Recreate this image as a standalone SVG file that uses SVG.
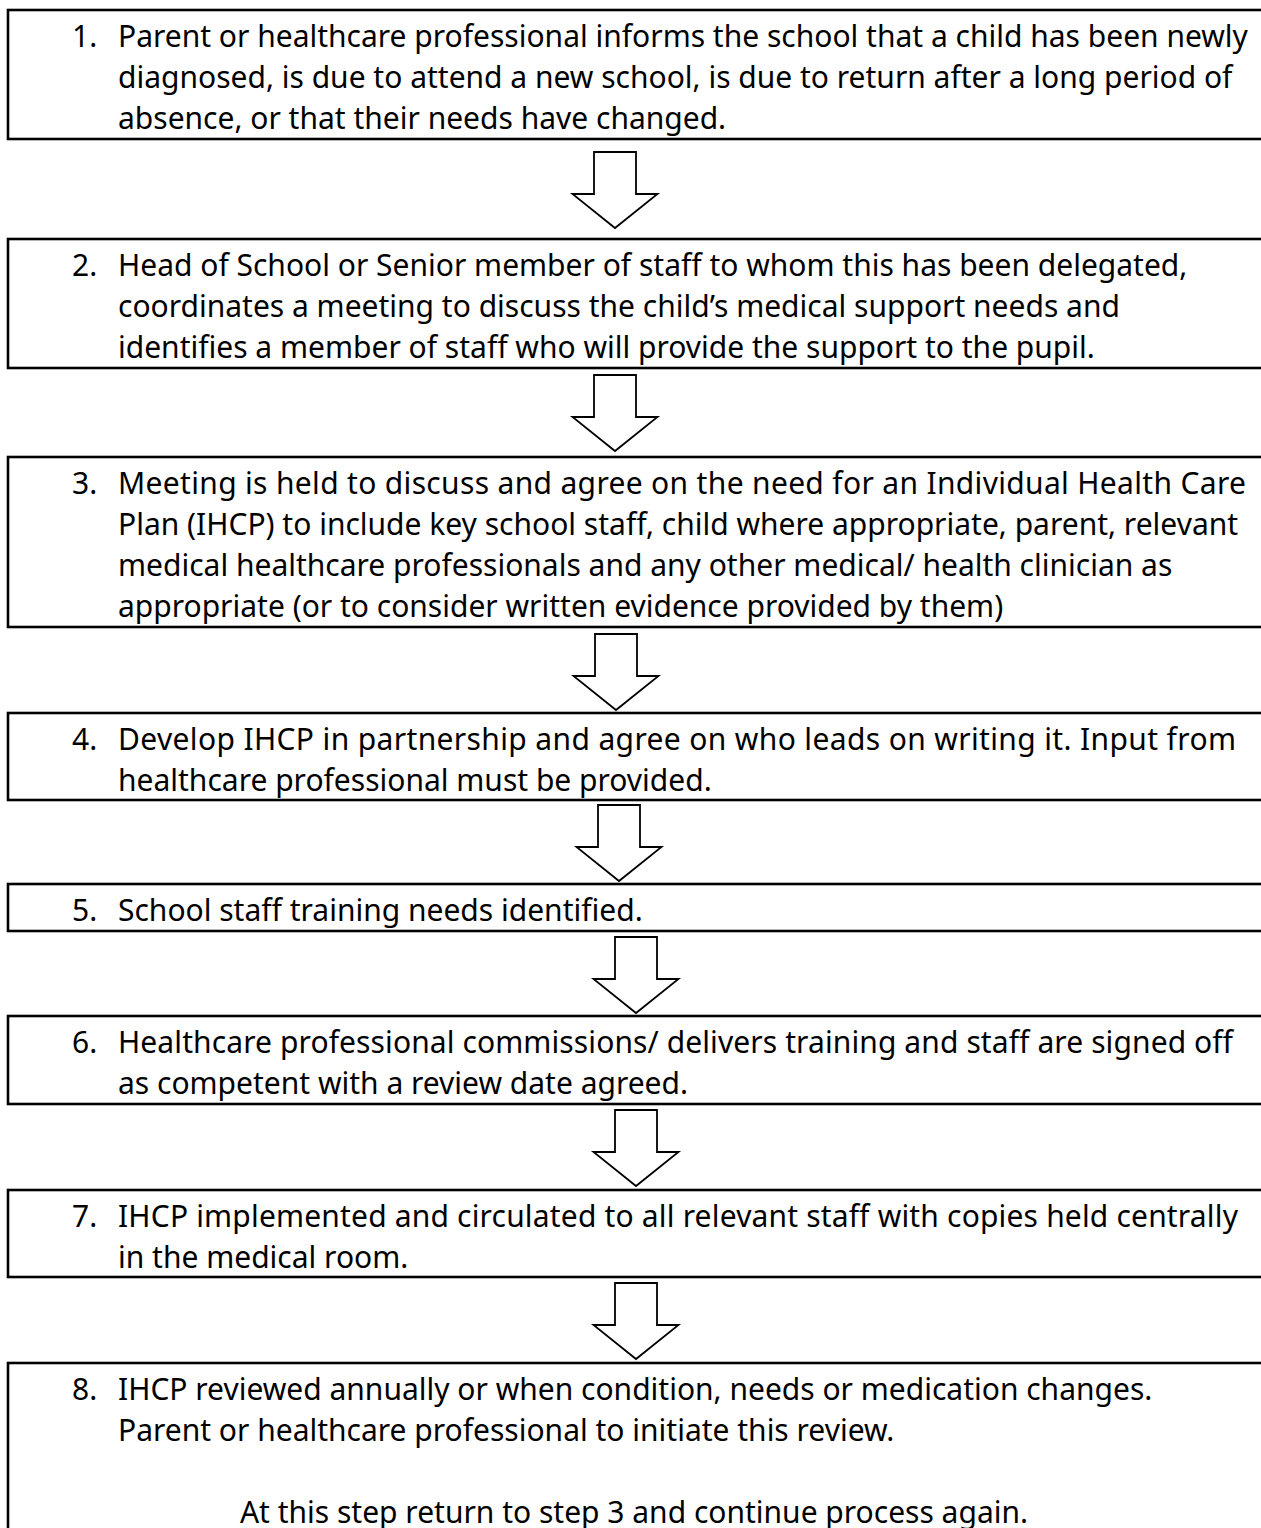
<svg xmlns="http://www.w3.org/2000/svg" width="1261" height="1528" viewBox="0 0 1261 1528">
<style>
.box{fill:#fff;stroke:#000;stroke-width:2.6}
.arr{fill:#fff;stroke:#000;stroke-width:1.8;stroke-linejoin:miter}
text{font-family:"Noto Sans","Open Sans","DejaVu Sans",sans-serif;font-size:30px;fill:#000}
</style>
<rect width="1261" height="1528" fill="#fff"/>
<defs>
<path id="arrow" class="arr" d="M-21,0 H21 V42 H42.5 L0,76 L-42.5,42 H-21 Z"/>
</defs>
<g id="connectors">
<use href="#arrow" x="615" y="152"/>
<use href="#arrow" x="615" y="375"/>
<use href="#arrow" x="616" y="634"/>
<use href="#arrow" x="619" y="805"/>
<use href="#arrow" x="636" y="937"/>
<use href="#arrow" x="636" y="1110"/>
<use href="#arrow" x="636" y="1283"/>
</g>
<g id="step1">
<rect class="box" x="8" y="10" width="1300" height="129"/>
<text x="72" y="47">1.</text>
<text x="118" y="47">Parent or healthcare professional informs the school that a child has been newly</text>
<text x="118" y="88">diagnosed, is due to attend a new school, is due to return after a long period of</text>
<text x="118" y="129">absence, or that their needs have changed.</text>
</g>
<g id="step2">
<rect class="box" x="8" y="239" width="1300" height="129"/>
<text x="72" y="276">2.</text>
<text x="118" y="276">Head of School or Senior member of staff to whom this has been delegated,</text>
<text x="118" y="317">coordinates a meeting to discuss the child’s medical support needs and</text>
<text x="118" y="358">identifies a member of staff who will provide the support to the pupil.</text>
</g>
<g id="step3">
<rect class="box" x="8" y="457" width="1300" height="170"/>
<text x="72" y="494">3.</text>
<text x="118" y="494" textLength="1128">Meeting is held to discuss and agree on the need for an Individual Health Care</text>
<text x="118" y="535">Plan (IHCP) to include key school staff, child where appropriate, parent, relevant</text>
<text x="118" y="576">medical healthcare professionals and any other medical/ health clinician as</text>
<text x="118" y="617">appropriate (or to consider written evidence provided by them)</text>
</g>
<g id="step4">
<rect class="box" x="8" y="713" width="1300" height="87"/>
<text x="72" y="750">4.</text>
<text x="118" y="750" textLength="1118">Develop IHCP in partnership and agree on who leads on writing it. Input from</text>
<text x="118" y="791">healthcare professional must be provided.</text>
</g>
<g id="step5">
<rect class="box" x="8" y="884" width="1300" height="47"/>
<text x="72" y="921">5.</text>
<text x="118" y="921">School staff training needs identified.</text>
</g>
<g id="step6">
<rect class="box" x="8" y="1016" width="1300" height="88"/>
<text x="72" y="1053">6.</text>
<text x="118" y="1053" textLength="1115">Healthcare professional commissions/ delivers training and staff are signed off</text>
<text x="118" y="1094">as competent with a review date agreed.</text>
</g>
<g id="step7">
<rect class="box" x="8" y="1190" width="1300" height="87"/>
<text x="72" y="1227">7.</text>
<text x="118" y="1227" textLength="1120">IHCP implemented and circulated to all relevant staff with copies held centrally</text>
<text x="118" y="1268">in the medical room.</text>
</g>
<g id="step8">
<rect class="box" x="8" y="1363" width="1300" height="300"/>
<text x="72" y="1400">8.</text>
<text x="118" y="1400">IHCP reviewed annually or when condition, needs or medication changes.</text>
<text x="118" y="1441">Parent or healthcare professional to initiate this review.</text>
<text x="634" y="1523" text-anchor="middle">At this step return to step 3 and continue process again.</text>
</g>
</svg>
